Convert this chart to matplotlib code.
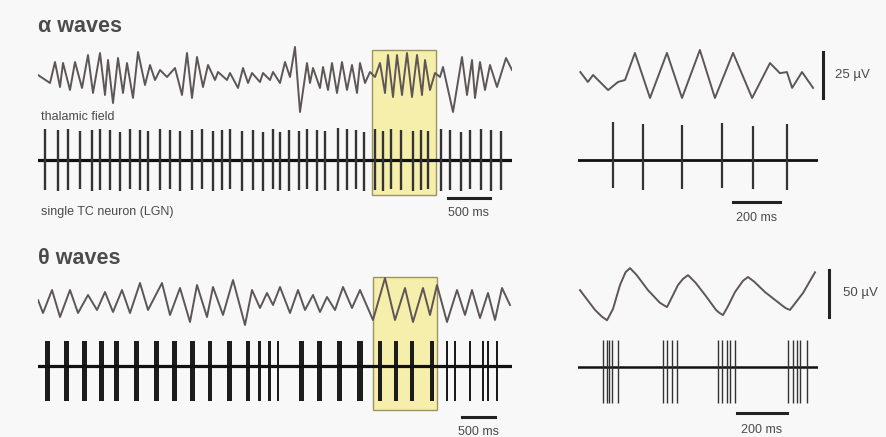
import matplotlib
matplotlib.use('Agg')
import matplotlib.pyplot as plt
from matplotlib.patches import Rectangle
from matplotlib.transforms import blended_transform_factory

plt.rcParams['font.family'] = ['Liberation Sans', 'DejaVu Sans']

W, H = 887, 437

# ---------------- alpha, long trace (ms, uV) ----------------
alpha_lfp_t = [0, 144, 204, 264, 300, 384, 444, 528, 600, 660, 744, 804, 840, 900, 960,
               1020, 1068, 1140, 1200, 1284, 1344, 1404, 1464, 1548, 1644, 1728, 1788,
               1848, 1908, 1980, 2040, 2124, 2160, 2268, 2304, 2400, 2460, 2520, 2568,
               2664, 2700, 2784, 2820, 2904, 2964, 3024, 3084, 3144, 3228, 3264, 3300,
               3384, 3420, 3480, 3528, 3588, 3648, 3708, 3768, 3828, 3864, 3924, 3984,
               4044, 4104, 4164, 4200, 4260, 4308, 4368, 4428, 4488, 4548, 4608, 4644,
               4704, 4764, 4824, 4860, 4980, 5088, 5148, 5208, 5244, 5304, 5364, 5424,
               5508, 5616, 5688]
alpha_lfp_v = [0, -4, 6.5, -6, 6, -7.5, 6.5, -6.5, 10, -9, 11, -10, 7.5, -14, 8.5,
               -9, 6, -11.5, 11.5, -5, 5, -2.5, 2.5, -1, 3.5, -10, 11,
               -11.5, 9, -6, 5, -2.5, 1.5, -2.5, 1, -6.5, 3.5, -4, 1,
               -3.5, 1, -2.5, 1.5, -4, 6.5, -1, 14, -18.5, 6, -4, 3.5,
               -6.5, 4, -7.5, 6, -9, 6.5, -7.5, 5, -9, 6, -4, 1.5,
               -1, 6, -9, 10, -11, 10, -10, 11, -11, 10, -10, 7.5,
               -7.5, 1, -1, 4, -18.5, 9, -10, 7.5, -11.5, 6.5, -7.5, 5,
               -6, 8.5, 2.5]
alpha_spk_t = [84, 240, 360, 504, 648, 744, 864, 984, 1104, 1224, 1320, 1464, 1584, 1704,
               1848, 1968, 2100, 2208, 2304, 2448, 2580, 2700, 2820, 2904, 3012, 3132,
               3228, 3348, 3444, 3600, 3708, 3816, 3912, 4044, 4140, 4236, 4356, 4500,
               4596, 4680, 4836, 4944, 5076, 5184, 5316, 5436, 5556]
alpha_spk_up = [31, 30, 31, 29, 30, 31, 30, 28, 31, 30, 29, 31, 30, 29,
                30, 31, 29, 30, 31, 29, 30, 28, 31, 28, 30, 29,
                31, 30, 29, 32, 31, 30, 28, 31, 29, 31, 30, 29,
                30, 29, 31, 30, 28, 30, 31, 30, 29]
alpha_spk_dn = [30, 31, 30, 29, 31, 30, 30, 31, 29, 30, 31, 30, 29, 31,
                30, 29, 31, 30, 29, 31, 30, 31, 29, 30, 31, 30,
                29, 31, 30, 31, 30, 29, 31, 30, 31, 29, 30, 31,
                30, 29, 31, 30, 31, 29, 30, 31, 30]
alpha_window = [4010, 4775]

# ---------------- alpha, expanded ----------------
alpha_zoom_t = [10, 42, 64, 85, 128, 170, 200, 242, 306, 378, 442, 518, 582, 659, 740,
                816, 858, 888, 910, 952, 999]
alpha_zoom_v = [1.6, -3.8, 0, -2.7, -8.2, -3.8, -2.7, 12, -12.5, 12, -12.5, 13.6, -12.5,
                12, -12.5, 6.5, 1, 1.6, -7, 1.6, -7]
alpha_zoom_spk = [149, 276, 442, 612, 744, 888]
alpha_zoom_up = [38, 36, 35, 37, 34, 36]
alpha_zoom_dn = [28, 30, 29, 28, 29, 30]

# ---------------- theta, long trace ----------------
theta_lfp_t = [0, 75, 210, 330, 480, 600, 750, 885, 1005, 1125, 1260, 1380, 1530, 1650,
               1860, 1980, 2130, 2280, 2385, 2535, 2625, 2775, 2925, 3105, 3210, 3330,
               3435, 3525, 3630, 3780, 3900, 4005, 4125, 4230, 4335, 4455, 4575, 4710,
               4830, 5025, 5205, 5355, 5505, 5625, 5775, 5880, 5985, 6135, 6285, 6405,
               6510, 6630, 6750, 6855, 6960, 7080]
theta_lfp_v = [3, -10, 13, -14, 13, -10, 8, -7, 11, -9, 13, -10, 20, -7,
               20, -12, 15, -19, 18, -14, 16, -12, 23, -22, 13, -5,
               10, -2, 16, -10, 13, -7, 8, -9, 6, -7, 16, -5,
               13, -17, 25, -17, 15, -19, 15, -12, 18, -19, 13, -12,
               13, -15, 10, -17, 15, -2]
theta_burst_t = [150, 435, 705, 960, 1185, 1485, 1785, 2055, 2325, 2580, 2880, 3150, 3330,
                 3480, 3600, 3960, 4230, 4530, 4830, 5130, 5370, 5610, 5910, 6135, 6255,
                 6480, 6675, 6750, 6885]
theta_burst_w = [75, 75, 75, 75, 75, 75, 75, 75, 75, 60, 75, 60, 45,
                 45, 40, 75, 75, 75, 90, 60, 60, 60, 60, 40, 40,
                 30, 25, 25, 40]
theta_window = [5025, 5985]

# ---------------- theta, expanded ----------------
theta_zoom_t = [8, 68, 95, 116, 140, 168, 190, 208, 235, 280, 328, 356, 400, 420, 440, 470,
                508, 552, 565, 580, 600, 628, 660, 680, 705, 748, 808, 830, 848, 900, 948]
theta_zoom_v = [3, -18, -25, -29, -17, 8.5, 22, 26.5, 19, 3, -10.5, -15, 8.5, 15, 19, 11,
                -2, -18, -21, -23.5, -14, 1, 13, 17, 12, 1, -11.5, -16, -18, 0, 22]
theta_zoom_spk = [100, 116, 124, 136, 160, 340, 356, 376, 396,
                  560, 576, 596, 608, 628, 840, 860, 876, 888, 916]

lfp_col = '#5e5656'
spk_col = '#333333'
txt_col = '#4a4a4a'


def box(x0, y0, x1, y1):
    return [x0 / W, 1 - y1 / H, (x1 - x0) / W, (y1 - y0) / H]


fig = plt.figure(figsize=(W / 100, H / 100), dpi=100, facecolor='#f8f8f8')

# alpha long
ax_a1 = fig.add_axes(box(38, 35, 512, 115))
ax_a1.plot(alpha_lfp_t, alpha_lfp_v, color=lfp_col, lw=1.4)
ax_a1.set_xlim(0, 5688)
ax_a1.set_ylim(-20, 20)

ax_a2 = fig.add_axes(box(38, 120, 512, 200))
ax_a2.axhline(0, color='#111111', lw=2.3)
ax_a2.vlines(alpha_spk_t, [-d for d in alpha_spk_dn], alpha_spk_up, color=spk_col, lw=1.7)
ax_a2.set_xlim(0, 5688)
ax_a2.set_ylim(-40, 40)
ax_a2.plot([4920, 5420], [-38, -38], color='#222222', lw=2.2, clip_on=False)
ax_a2.text(5170, -53, '500 ms', ha='center', va='center', fontsize=9, color=txt_col)

# alpha expanded
ax_a3 = fig.add_axes(box(578, 38.2, 818, 111.8))
ax_a3.plot(alpha_zoom_t, alpha_zoom_v, color=lfp_col, lw=1.4)
ax_a3.set_xlim(0, 1020)
ax_a3.set_ylim(-20, 20)
ax_a3.plot([1041, 1041], [-12.5, 12.5], color='#222222', lw=2.2, clip_on=False)
ax_a3.text(1092, 0, '25 µV', ha='left', va='center', fontsize=9.5, color=txt_col)

ax_a4 = fig.add_axes(box(578, 120, 818, 200))
ax_a4.axhline(0, color='#111111', lw=2.0)
ax_a4.vlines(alpha_zoom_spk, [-d for d in alpha_zoom_dn], alpha_zoom_up, color=spk_col, lw=1.6)
ax_a4.set_xlim(0, 1020)
ax_a4.set_ylim(-40, 40)
ax_a4.plot([659, 859], [-42, -42], color='#222222', lw=2.2, clip_on=False)
ax_a4.text(759, -58, '200 ms', ha='center', va='center', fontsize=9, color=txt_col)

# theta long
ax_t1 = fig.add_axes(box(38, 273, 512, 333))
ax_t1.plot(theta_lfp_t, theta_lfp_v, color=lfp_col, lw=1.4)
ax_t1.set_xlim(0, 7110)
ax_t1.set_ylim(-30, 30)

ax_t2 = fig.add_axes(box(38, 326, 512, 406))
ax_t2.axhline(0, color='#111111', lw=2.3)
ax_t2.bar(theta_burst_t, 60, width=theta_burst_w, bottom=-35, color='#1c1c1c')
ax_t2.set_xlim(0, 7110)
ax_t2.set_ylim(-40, 40)
ax_t2.plot([6360, 6855], [-51, -51], color='#222222', lw=2.2, clip_on=False)
ax_t2.text(6608, -66, '500 ms', ha='center', va='center', fontsize=9, color=txt_col)

# theta expanded
ax_t3 = fig.add_axes(box(578, 260.1, 818, 325.9))
ax_t3.plot(theta_zoom_t, theta_zoom_v, color=lfp_col, lw=1.4)
ax_t3.set_xlim(0, 960)
ax_t3.set_ylim(-35, 35)
ax_t3.plot([1004, 1004], [-25, 25], color='#222222', lw=2.2, clip_on=False)
ax_t3.text(1060, 0, '50 µV', ha='left', va='center', fontsize=9.5, color=txt_col)

ax_t4 = fig.add_axes(box(578, 327, 818, 407))
ax_t4.axhline(0, color='#111111', lw=1.8)
ax_t4.vlines(theta_zoom_spk, -36, 27, color=spk_col, lw=1.0)
ax_t4.set_xlim(0, 960)
ax_t4.set_ylim(-40, 40)
ax_t4.plot([636, 836], [-46, -46], color='#222222', lw=2.2, clip_on=False)
ax_t4.text(736, -63, '200 ms', ha='center', va='center', fontsize=9, color=txt_col)

for ax in fig.axes:
    ax.set_axis_off()

# highlighted windows
tr = blended_transform_factory(ax_a1.transData, fig.transFigure)
fig.patches.append(Rectangle((alpha_window[0], 1 - 195 / H), alpha_window[1] - alpha_window[0],
                             145 / H, transform=tr, facecolor='#f6efab', edgecolor='#9a9460',
                             lw=1.0, zorder=-1))
tr = blended_transform_factory(ax_t1.transData, fig.transFigure)
fig.patches.append(Rectangle((theta_window[0], 1 - 410 / H), theta_window[1] - theta_window[0],
                             133 / H, transform=tr, facecolor='#f6efab', edgecolor='#9a9460',
                             lw=1.0, zorder=-1))

fig.text(38 / W, 1 - 26 / H, 'α waves', fontsize=15.5, fontweight='bold', color='#4c4c4c', va='center')
fig.text(38 / W, 1 - 258 / H, 'θ waves', fontsize=15.5, fontweight='bold', color='#4c4c4c', va='center')
fig.text(41 / W, 1 - 117 / H, 'thalamic field', fontsize=9, color=txt_col, va='center')
fig.text(41 / W, 1 - 212 / H, 'single TC neuron (LGN)', fontsize=9, color=txt_col, va='center')

fig.savefig('out.png', dpi=100, facecolor=fig.get_facecolor())
